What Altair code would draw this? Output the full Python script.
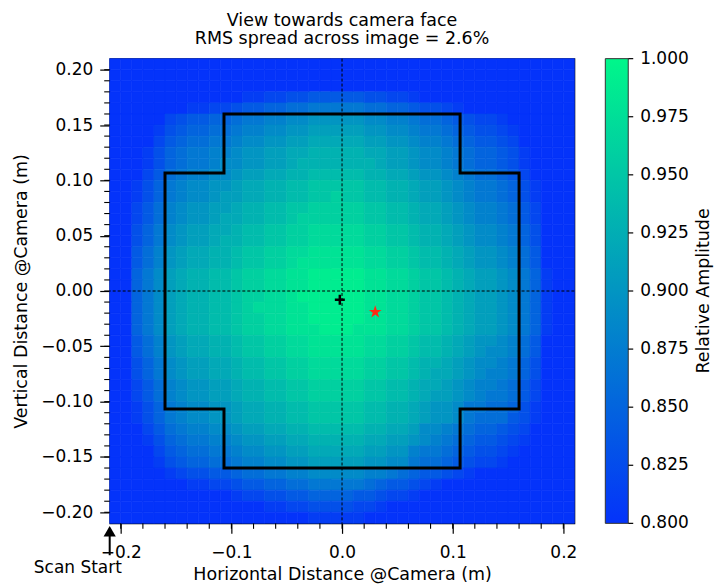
import altair as alt
import pandas as pd

# ---------------- data ----------------
# Amplitude map: 42 x 42 cells of 0.01 m covering -0.21..0.21 m, row 0 is the top row.
# Each character is a level: relative amplitude = 0.80 + 0.01 * level ('0'..'9','A'..'J').
AMP_ROWS = [
    "0000000000" "0000000000" "0000000000" "0000000000" "00",
    "0000000000" "0000000000" "0000000000" "0000000000" "00",
    "0000000000" "0000000000" "0000000000" "0000000000" "00",
    "0000000000" "00" "1122334444433221" "0000000000" "0000",
    "0000000" "1122344556677777665543321" "0000000000",
    "00000" "2344556778899AAAAA9988766543221" "000000",
    "0000" "1345566788" "99AABBBBBAA99" "8776543321" "00000",
    "0000" "2456677899" "AABBCCCCCBBAA" "9887654432" "00000",
    "000" "135677889AA" "BBCCDDDDDCCBB" "A9987655431" "0000",
    "000" "135677899AA" "BBCDDDDDDDCBB" "A9987655431" "0000",
    "000" "24678899ABB" "CCDDEEEEEDDCC" "BAA98766542" "0000",
    "00" "1357899AABCC" "DDEEFFFFFEEDD" "CBBA98776531" "000",
    "00" "1357899ABBCC" "DDEEFFGFFEEDD" "CBBA98776531" "000",
    "00" "24689AABBCDD" "EEFFGGGGGFFEE" "DCCBA9887642" "000",
    "00" "24689AABCCDD" "EEFGGGGGGFFEE" "DCCBA9887642" "000",
    "00" "3579ABBCCDEE" "FFGGHHHHHGGFF" "EDDCBA998753" "000",
    "00" "3579ABBCDDEE" "FFGGHHHHHGGFF" "EDDCBA998753" "000",
    "00" "468ABCCDDEFF" "GGHHIIIIIHHGG" "FEEDCBAA9864" "000",
    "00" "468ABCCDDEFF" "GGHIIIIIIHHGG" "FEEDCBAA9864" "000",
    "00" "579BCDDEEFGG" "HHIIJJJJJIIHH" "GFFEDCBBA975" "100",
    "00" "579BCDDEEFGG" "HHIIJJJJJIIHH" "GFFEDCBBA975" "100",
    "00" "579BCDDEEFGG" "HHIJJJJJJIIHH" "GFFEDCBBA975" "100",
    "00" "579BCDDEEFGH" "HHIIJJJJJIIHH" "GFFEDCBBA975" "100",
    "00" "579BCDDEEFGG" "HHIIJJJJJIIHH" "GFFEDCBBA975" "100",
    "00" "579BCDDEEFGG" "HHIIIJJJIIIHH" "GFFEDCBBA975" "100",
    "00" "468ABCCDDEFF" "GGHHIIIIIHHGG" "FEEDCBAA9864" "000",
    "00" "468ABCCDDEFF" "GGHHIIIIIHHGG" "FEEDCBA99864" "000",
    "00" "3579ABBCCDEE" "FFGGHHHHHGGFF" "EDDCBA998753" "000",
    "00" "3579ABBCCDEE" "FFGGHHHHHGGFF" "EDCCBA988753" "000",
    "00" "24689AABBCDD" "EEFFGGGGGFFEE" "DCCBA9887642" "000",
    "00" "24689AABBCDD" "EEFFGGGGGFFEE" "DCBBA9877642" "000",
    "00" "1357899AABCC" "DDEEFFFFFEEDD" "CBAA97766531" "000",
    "00" "1357899AABCC" "DDEEFFFFFEEDD" "CBAA97666431" "000",
    "000" "24678899ABB" "CCDDEEEEEDDCC" "B9987655432" "0000",
    "000" "135677889AA" "BBCCDDDDDCCBB" "A9876544321" "0000",
    "0000" "2456677899" "AABBCCCCCBBAA" "8776543321" "00000",
    "0000" "1345566788" "99AABBBBBAA99" "7665432210" "00000",
    "00000" "1233445667" "7889999988" "7654432100" "0000000",
    "0000000" "1122344556677777" "654432100" "0000000000",
    "0000000000" "0" "1223344555544322100" "0000000000" "00",
    "0000000000" "0000" "1122333322100" "0000000000" "00000",
    "0000000000" "00000000" "11111" "0000000000" "000000000",
]
LEVEL_CODES = "0123456789ABCDEFGHIJ"
CELL = 0.01
EXTENT = 0.21

# Detector outline (m)
outline_x = [-0.1067, 0.1067, 0.1067, 0.16, 0.16, 0.1067, 0.1067,
             -0.1067, -0.1067, -0.16, -0.16, -0.1067, -0.1067]
outline_y = [0.16, 0.16, 0.1067, 0.1067, -0.1067, -0.1067, -0.16,
             -0.16, -0.1067, -0.1067, 0.1067, 0.1067, 0.16]

centre_x, centre_y = [-0.002], [-0.008]   # black plus
peak_x, peak_y = [0.030], [-0.019]        # red star

x_major = [-0.2, -0.1, 0.0, 0.1, 0.2]
y_major = [-0.20, -0.15, -0.10, -0.05, 0.00, 0.05, 0.10, 0.15, 0.20]
x_minor = [round(-0.20 + 0.02 * k, 2) for k in range(21)]
y_minor = [round(-0.20 + 0.01 * k, 2) for k in range(41)]
cbar_ticks = [0.800, 0.825, 0.850, 0.875, 0.900, 0.925, 0.950, 0.975, 1.000]
CB_MIN, CB_MAX = 0.80, 1.00

# ---------------- build tables ----------------
recs = []
for j, row in enumerate(AMP_ROWS):
    assert len(row) == 42, (j, len(row))
    for i, ch in enumerate(row):
        recs.append({
            "x0": -EXTENT + CELL * i, "x1": -EXTENT + CELL * (i + 1),
            "y0": EXTENT - CELL * (j + 1), "y1": EXTENT - CELL * j,
            "amp": round(0.80 + 0.01 * LEVEL_CODES.index(ch), 3),
        })
heat_df = pd.DataFrame(recs)
outline_df = pd.DataFrame({"x": outline_x, "y": outline_y, "k": list(range(len(outline_x)))})

FONT = "DejaVu Sans"
FS = 17      # tick labels
FT = 17.5    # titles
C0, C1 = "#0433fa", "#00f78a"
XS = alt.Scale(domain=[-EXTENT, EXTENT], nice=False, zero=False)
YS = alt.Scale(domain=[-EXTENT, EXTENT], nice=False, zero=False)
cscale = alt.Scale(domain=[CB_MIN, CB_MAX], range=[C0, C1], interpolate="rgb", clamp=True)
MINUS = "\u2212"

# one axis definition shared by every layer, so the layers merge into one axis
XA = alt.Axis(
    values=x_major,
    labelExpr="replace(format(datum.value, '.1f'), '-', '" + MINUS + "')",
    title="Horizontal Distance @Camera (m)", tickSize=10, labelPadding=11,
    titlePadding=5, domain=False, labelFlush=False, orient="bottom")
YA = alt.Axis(
    values=y_major,
    labelExpr="replace(format(datum.value, '.2f'), '-', '" + MINUS + "')",
    title="Vertical Distance @Camera (m)", tickSize=10, labelPadding=7,
    titlePadding=10, domain=False, orient="left")


def X(f):
    return alt.X(f, scale=XS, axis=XA)


def Y(f):
    return alt.Y(f, scale=YS, axis=YA)


heat = alt.Chart(heat_df).mark_rect(strokeWidth=0.6).encode(
    x=X("x0:Q"), x2="x1:Q", y=Y("y0:Q"), y2="y1:Q",
    color=alt.Color("amp:Q", scale=cscale, legend=None),
    stroke=alt.Stroke("amp:Q", scale=cscale, legend=None),
)

zero_df = pd.DataFrame({"v": [0.0]})
vline = alt.Chart(zero_df).mark_rule(color="black", strokeDash=[3, 2], strokeWidth=1).encode(x=X("v:Q"))
hline = alt.Chart(zero_df).mark_rule(color="black", strokeDash=[3, 2], strokeWidth=1).encode(y=Y("v:Q"))

outline = alt.Chart(outline_df).mark_line(
    color="black", strokeWidth=3, strokeJoin="miter", strokeCap="square").encode(
    x=X("x:Q"), y=Y("y:Q"), order="k:Q")

plus = alt.Chart(pd.DataFrame({"x": centre_x, "y": centre_y})).mark_point(
    shape="M-1,0L1,0M0,-1L0,1", size=100, color="black", strokeWidth=2.5,
    filled=False, opacity=1).encode(x=X("x:Q"), y=Y("y:Q"))

STAR = ("M0,-1L0.225,-0.309L0.951,-0.309L0.363,0.118L0.588,0.809L0,0.382"
        "L-0.588,0.809L-0.363,0.118L-0.951,-0.309L-0.225,-0.309Z")
star = alt.Chart(pd.DataFrame({"x": peak_x, "y": peak_y})).mark_point(
    shape=STAR, size=180, filled=True, color="#ff2a14", opacity=1).encode(x=X("x:Q"), y=Y("y:Q"))

# "Scan Start" arrow at the lower-left corner of the map
shaft = alt.Chart(pd.DataFrame({"x": [-0.21], "y0": [-0.2388], "y1": [-0.2205]})).mark_rule(
    color="black", strokeWidth=2).encode(x=X("x:Q"), y=Y("y0:Q"), y2="y1:Q")
head = alt.Chart(pd.DataFrame({"x": [-0.21], "y": [-0.2172]})).mark_point(
    shape="triangle-up", size=150, filled=True, color="black", opacity=1).encode(x=X("x:Q"), y=Y("y:Q"))
scan_txt = alt.Chart(pd.DataFrame({"x": [-0.2388], "y": [-0.2551], "t": ["Scan Start"]})).mark_text(
    font=FONT, fontSize=FS, align="center", baseline="alphabetic", color="black").encode(
    x=X("x:Q"), y=Y("y:Q"), text="t:N")

# minor ticks
ytk = alt.Chart(pd.DataFrame({"v": y_minor})).mark_rule(color="black", strokeWidth=1.1).encode(
    y=Y("v:Q"), x=alt.value(0), x2=alt.value(-5.5))
xtk = alt.Chart(pd.DataFrame({"v": x_minor})).mark_rule(color="black", strokeWidth=1.1).encode(
    x=X("v:Q"), y=alt.value(466), y2=alt.value(471.5))

# colour bar: amplitude values are mapped onto the map's vertical span
to_map = f"{-EXTENT} + (datum.{{f}} - {CB_MIN}) / {CB_MAX - CB_MIN} * {2 * EXTENT}"
grad = alt.LinearGradient(
    gradient="linear",
    stops=[alt.GradientStop(color=C0, offset=0), alt.GradientStop(color=C1, offset=1)],
    x1=0, x2=0, y1=1, y2=0)
cb_rect = alt.Chart(pd.DataFrame({"lo": [CB_MIN], "hi": [CB_MAX]})).transform_calculate(
    ylo=to_map.format(f="lo"), yhi=to_map.format(f="hi")
).mark_rect(fill=grad, stroke="#333333", strokeWidth=1).encode(
    x=alt.value(497), x2=alt.value(520), y=Y("ylo:Q"), y2="yhi:Q")
cb_tick_base = alt.Chart(pd.DataFrame({"v": cbar_ticks})).transform_calculate(
    yy=to_map.format(f="v"), lab="format(datum.v, '.3f')")
cb_ticks = cb_tick_base.mark_rule(color="black", strokeWidth=1.2).encode(
    x=alt.value(520), x2=alt.value(525), y=Y("yy:Q"))
cb_labels = cb_tick_base.mark_text(
    font=FONT, fontSize=FS, align="left", baseline="middle", color="black").encode(
    x=alt.value(532), y=Y("yy:Q"), text="lab:N")
cb_title = alt.Chart(pd.DataFrame({"t": ["Relative Amplitude"]})).mark_text(
    font=FONT, fontSize=FT, align="center", baseline="middle", angle=270, color="black").encode(
    x=alt.value(596), y=alt.value(233), text="t:N")

chart = alt.layer(
    heat, vline, hline, outline, plus, star, shaft, head, scan_txt, ytk, xtk,
    cb_rect, cb_ticks, cb_labels, cb_title,
).properties(
    width=466, height=466,
    padding={"left": 12, "top": 11, "right": 2, "bottom": 2},
    title=alt.TitleParams(
        text=["View towards camera face", "RMS spread across image = 2.6%"],
        font=FONT, fontSize=FT, fontWeight="normal", color="black",
        anchor="middle", frame="group", offset=-16, lineHeight=18.5, baseline="bottom"),
).configure(font=FONT).configure_view(
    stroke="black", strokeWidth=1.2
).configure_axis(
    labelFont=FONT, titleFont=FONT, labelFontSize=FS, titleFontSize=FT,
    labelColor="black", titleColor="black", tickColor="black", tickWidth=1.2,
    titleFontWeight="normal", grid=False,
)

chart.save("out.html", embed_options={"renderer": "svg", "actions": False})
